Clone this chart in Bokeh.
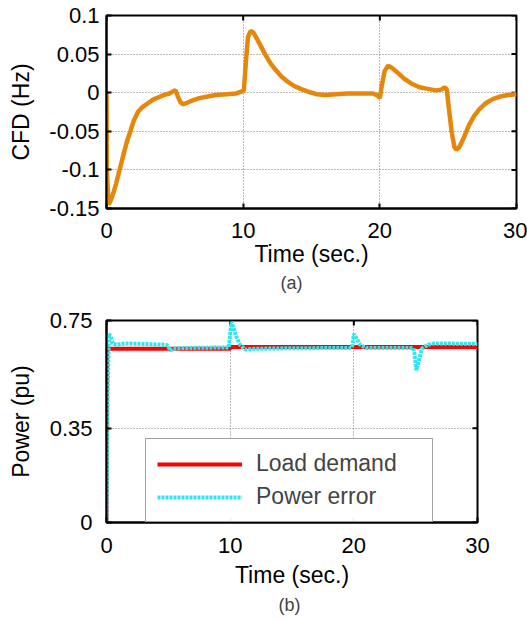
import math
from bokeh.plotting import figure
from bokeh.layouts import column
from bokeh.models import FixedTicker, Title, Legend, LegendItem, Range1d
from bokeh.embed import file_html
from bokeh.resources import INLINE

# ---- data (a): CFD ----
cfd_t = [0, 0.02, 0.15, 0.3, 0.5, 0.7, 0.9, 1.1, 1.3, 1.5, 1.75, 2.0, 2.3, 2.6, 3.0, 3.4, 3.8, 4.2, 4.6,
         4.9, 5.05, 5.2, 5.4, 5.6, 5.9, 6.3, 6.8, 7.4, 8.0, 8.8, 9.5, 9.95, 10.05, 10.2, 10.35, 10.55,
         10.75, 11.0, 11.3, 11.6, 12.0, 12.4, 12.8, 13.2, 13.7, 14.2, 14.8, 15.4, 16.0, 16.8, 17.6,
         18.5, 19.5, 19.85, 20.0, 20.15, 20.35, 20.6, 20.9, 21.3, 21.8, 22.3, 22.9, 23.5, 24.1, 24.5,
         24.75, 24.9, 25.05, 25.25, 25.45, 25.6, 25.8, 26.1, 26.5, 26.9, 27.3, 27.8, 28.3, 28.8, 29.4, 30]
cfd_y = [0, -0.10, -0.145, -0.14, -0.13, -0.118, -0.104, -0.09, -0.076, -0.063, -0.05, -0.036, -0.025,
         -0.019, -0.014, -0.009, -0.006, -0.003, -0.001, 0.002, 0.003, -0.004, -0.012, -0.015, -0.013,
         -0.010, -0.007, -0.005, -0.003, -0.002, -0.001, 0.002, 0.003, 0.04, 0.072, 0.080, 0.078, 0.070,
         0.060, 0.050, 0.038, 0.029, 0.021, 0.015, 0.009, 0.005, 0.001, -0.002, -0.003, -0.002, -0.001,
         -0.001, -0.001, -0.004, -0.007, 0.010, 0.028, 0.035, 0.032, 0.026, 0.018, 0.012, 0.007, 0.005,
         0.003, 0.004, 0.007, 0.004, -0.020, -0.050, -0.070, -0.074, -0.071, -0.060, -0.043, -0.030,
         -0.021, -0.013, -0.008, -0.005, -0.003, -0.002]
cfd_yticks = [-0.15, -0.1, -0.05, 0, 0.05, 0.1]
cfd_ylabels = ["-0.15", "-0.1", "-0.05", "0", "0.05", "0.1"]

# ---- data (b): power ----
load_t = [0, 0.05, 10, 10.01, 30]
load_y = [0, 0.645, 0.645, 0.652, 0.652]
err_t = [0, 0.1, 0.2, 0.35, 0.5, 0.8, 1.5, 3, 4.8, 5.0, 5.15, 5.35, 6, 8, 9.9, 10.0, 10.1, 10.3, 10.5,
         10.8, 11.2, 12, 15, 19.8, 19.9, 20.0, 20.2, 20.5, 21, 24.8, 24.9, 25.05, 25.25, 25.5, 26, 26.5, 30]
err_y = [0, 0.5, 0.70, 0.69, 0.665, 0.66, 0.665, 0.663, 0.66, 0.655, 0.638, 0.645, 0.648, 0.649, 0.65,
         0.70, 0.745, 0.72, 0.69, 0.66, 0.642, 0.645, 0.647, 0.648, 0.66, 0.70, 0.685, 0.66, 0.648,
         0.648, 0.63, 0.565, 0.60, 0.645, 0.66, 0.665, 0.663]
pw_yticks = [0, 0.35, 0.75]
pw_ylabels = ["0", "0.35", "0.75"]
xticks = [0, 10, 20, 30]

FONT = "Liberation Sans"


def style(p, yticks, ylabels, xlabel, ylabel, tick_size, lab_size):
    p.xaxis.ticker = FixedTicker(ticks=xticks)
    p.yaxis.ticker = FixedTicker(ticks=yticks)
    p.yaxis.major_label_overrides = {t: l for t, l in zip(yticks, ylabels)}
    p.xaxis.axis_label = xlabel
    p.yaxis.axis_label = ylabel
    for ax in (p.xaxis[0], p.yaxis[0]):
        ax.major_label_text_font = FONT
        ax.major_label_text_font_size = tick_size
        ax.major_label_text_color = "black"
        ax.axis_label_text_font = FONT
        ax.axis_label_text_font_size = lab_size
        ax.axis_label_text_font_style = "normal"
        ax.axis_label_text_color = "black"
        ax.major_tick_in = 5
        ax.major_tick_out = 0
        ax.minor_tick_line_color = None
        ax.axis_line_width = 2
        ax.major_tick_line_width = 2
    # inward ticks on the top and right edges of the box
    xr, yr = p.x_range, p.y_range
    p.ray(x=xticks, y=[yr.end] * len(xticks), length=5, length_units="screen",
          angle=-math.pi / 2, line_color="black", line_width=2)
    p.ray(x=[xr.end] * len(yticks), y=yticks, length=5, length_units="screen",
          angle=math.pi, line_color="black", line_width=2)
    p.outline_line_color = "black"
    p.outline_line_width = 2
    p.xgrid.ticker = FixedTicker(ticks=[10, 20])
    p.ygrid.ticker = FixedTicker(ticks=yticks[1:-1])
    for g in (p.xgrid[0], p.ygrid[0]):
        g.grid_line_color = "#777777"
        g.grid_line_dash = "1 2"
        g.grid_line_width = 1


# ---- top figure ----
p1 = figure(frame_width=410, frame_height=193, output_backend="svg", toolbar_location=None,
            x_range=Range1d(0, 30), y_range=Range1d(-0.15, 0.1),
            min_border_left=104, min_border_right=13, min_border_top=15, min_border_bottom=92)
style(p1, cfd_yticks, cfd_ylabels, "Time (sec.)", "CFD (Hz)", "22px", "23px")
p1.yaxis[0].major_label_standoff = 7
p1.yaxis[0].axis_label_standoff = 12
p1.xaxis[0].major_label_standoff = 14
p1.xaxis[0].axis_label_standoff = 0
p1.line(cfd_t, cfd_y, line_color="#E5870C", line_width=4.5)
p1.add_layout(Title(text="(a)", align="left", offset=174, text_font=FONT, text_font_size="18px",
                    text_font_style="normal", standoff=2), "below")

# ---- bottom figure ----
p2 = figure(frame_width=371, frame_height=202, output_backend="svg", toolbar_location=None,
            x_range=Range1d(0, 30), y_range=Range1d(0, 0.75),
            min_border_left=106, min_border_right=50, min_border_top=20, min_border_bottom=99)
style(p2, pw_yticks, pw_ylabels, "Time (sec.)", "Power (pu)", "22px", "23px")
p2.yaxis[0].major_label_standoff = 14
p2.yaxis[0].axis_label_standoff = 13
p2.xaxis[0].major_label_standoff = 15
p2.xaxis[0].axis_label_standoff = 6
r1 = p2.line(load_t, load_y, line_color="red", line_width=4)
r2 = p2.line(err_t, err_y, line_color="#33E6EE", line_width=4, line_dash="3 1")
legend = Legend(items=[LegendItem(label="Load demand", renderers=[r1]),
                       LegendItem(label="Power error", renderers=[r2])],
                location=(39, 0), margin=0, padding=11, spacing=6,
                glyph_width=85, glyph_height=20, label_height=20, label_standoff=14,
                label_width=165,
                label_text_font=FONT, label_text_font_size="23px",
                border_line_color="#444444", border_line_width=1)
p2.add_layout(legend)
p2.add_layout(Title(text="(b)", align="left", offset=172, text_font=FONT, text_font_size="18px",
                    text_font_style="normal", standoff=4), "below")

layout = column(p1, p2, spacing=0)
open("out.html", "w").write(file_html(layout, INLINE))
